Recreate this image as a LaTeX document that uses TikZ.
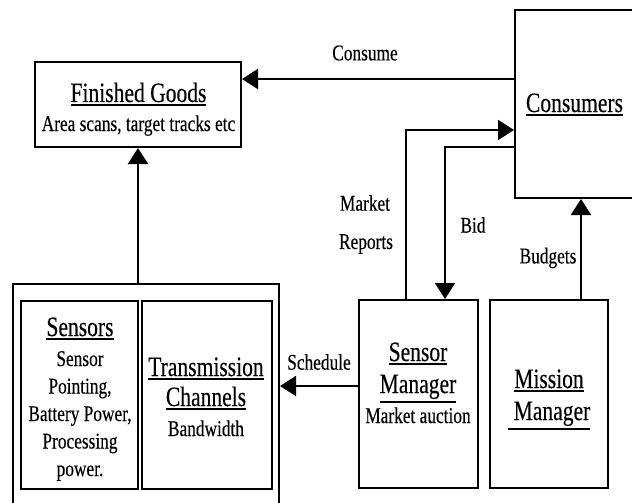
\documentclass[tikz,border=0pt]{standalone}
\usepackage{fontspec}
\setmainfont{Liberation Serif}[FakeStretch=0.77,FakeBold=0.3]
\usetikzlibrary{arrows.meta}
\newcommand\BigTxt{\fontsize{28}{30}\selectfont}
\newcommand\SmTxt{\fontsize{22.5}{27.5}\selectfont}
\newcommand\UL[1]{\leavevmode\setbox0=\hbox{#1}\rlap{\vrule height \dimexpr-\dp0-2.2pt\relax depth \dimexpr\dp0+4pt\relax width \wd0}\box0}
\begin{document}
\begin{tikzpicture}[x=1pt,y=-1pt, line width=2pt,
  box/.style={draw, rectangle, inner sep=0pt},
  txt/.style={inner sep=0pt, align=center, font=\BigTxt, anchor=base},
  lbl/.style={font=\SmTxt, inner sep=0pt},
  arr/.style={-{Triangle[length=16pt,width=20pt]}}]
\useasboundingbox (0,0) rectangle (632,503);
\clip (0,0) rectangle (632,503);

% boxes
\node[box, minimum width=206pt, minimum height=85pt] (fg) at (138,104.5) {};
\node[box, minimum width=120pt, minimum height=188pt] (cons) at (575,104) {};
\node[box, minimum width=266pt, minimum height=236pt] (outer) at (146,402) {};
\node[box, minimum width=117pt, minimum height=188pt] (sensors) at (79.5,395) {};
\node[box, minimum width=130pt, minimum height=188pt] (trans) at (207,395) {};
\node[box, minimum width=119pt, minimum height=188pt] (sm) at (418.5,394) {};
\node[box, minimum width=118pt, minimum height=188pt] (mm) at (549,394) {};

% box texts (anchor = baseline of the last line)
\node[txt] (fgt) at (138.5,131)
  {\UL{Finished Goods}\\[-1pt]\SmTxt Area scans, target tracks etc};
\node[txt] (const) at (574.5,112) {\UL{Consumers}};
\node[txt] (sensorst) at (80,476)
  {\UL{Sensors}\\[0pt]\SmTxt Sensor\\[-2.5pt]\SmTxt Pointing,\\[-2.5pt]\SmTxt Battery Power,\\[-2.5pt]\SmTxt Processing\\[-2.5pt]\SmTxt power.};
\node[txt] (transt) at (206,436)
  {\UL{Transmission}\\[0pt]\UL{Channels}\\[0pt]\SmTxt Bandwidth};
\node[txt] (smt) at (418,423)
  {\UL{Sensor}\\[2pt]\UL{Manager}\\[0pt]\SmTxt Market auction};
\node[txt] (mmt) at (549,420)
  {\UL{Mission}\\[2pt]\UL{\hspace{6pt}Manager}};

% labels
\node[lbl] (lconsume) at (365,53) {Consume};
\node[lbl] (lmarket) at (365,203) {Market};
\node[lbl] (lreports) at (366,244) {Reports};
\node[lbl] (lbid) at (473,225) {Bid};
\node[lbl] (lbudgets) at (548,258) {Budgets};
\node[lbl] (lschedule) at (319,362) {Schedule};

% helper coordinates
\coordinate (yCons) at (0,79);
\coordinate (yMR) at (0,130);
\coordinate (xMR) at (406,0);
\coordinate (yBid) at (0,147);
\coordinate (xBid) at (445,0);
\coordinate (xBud) at (581,0);
\coordinate (ySch) at (0,386);

% connectors
\draw[arr] (cons.west |- yCons) -- (fg.east |- yCons);
\draw[arr] (outer.north -| fg.south) -- (fg.south);
\draw[arr] (sm.north -| xMR) |- (cons.west |- yMR);
\draw[arr] (cons.west |- yBid) -| (sm.north -| xBid);
\draw[arr] (mm.north -| xBud) -- (cons.south -| xBud);
\draw[arr] (sm.west |- ySch) -- (outer.east |- ySch);
\end{tikzpicture}
\end{document}
